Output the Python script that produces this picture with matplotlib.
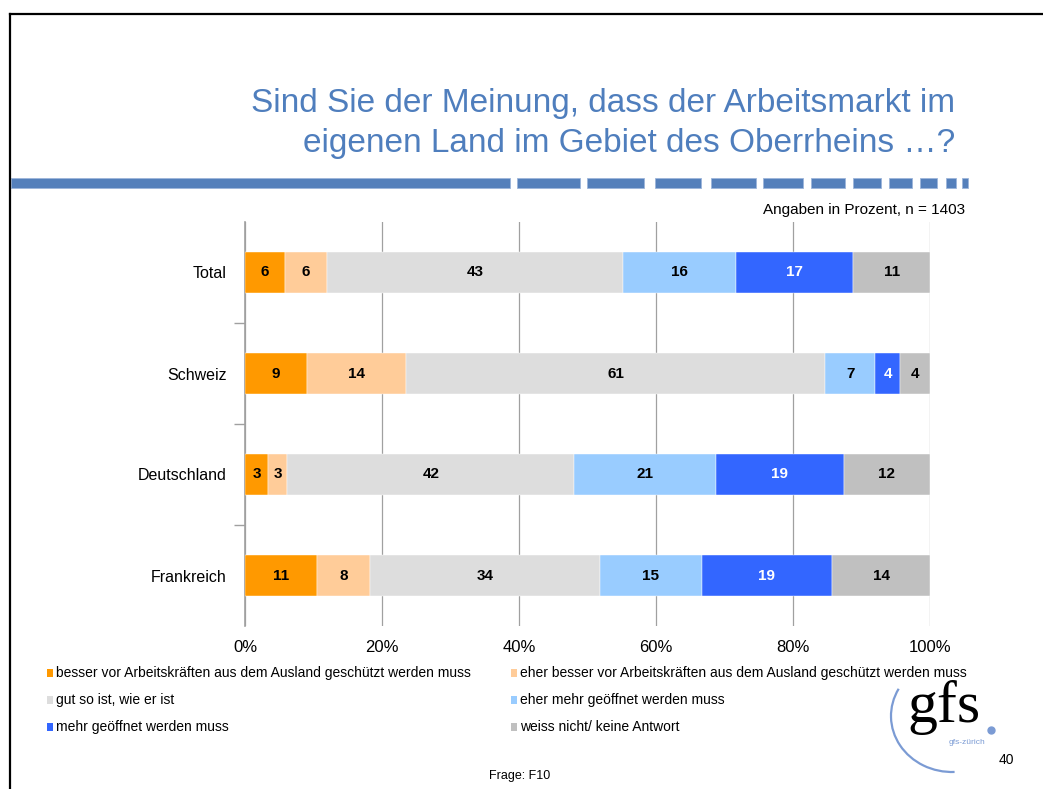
import numpy as np
import matplotlib
matplotlib.use("Agg")
import matplotlib.pyplot as plt
from matplotlib.patches import Rectangle, Arc
from matplotlib.lines import Line2D

plt.rcParams['font.family'] = ['Liberation Sans', 'DejaVu Sans']

# daten (anteile in prozent, aus dem bild gelesen)
regions = ["Total", "Schweiz", "Deutschland", "Frankreich"]
answers = [
    "besser vor Arbeitskräften aus dem Ausland geschützt werden muss",
    "eher besser vor Arbeitskräften aus dem Ausland geschützt werden muss",
    "gut so ist, wie er ist",
    "eher mehr geöffnet werden muss",
    "mehr geöffnet werden muss",
    "weiss nicht/ keine Antwort",
]
shares = [
    [5.8, 6.2, 43.2, 16.5, 17.1, 11.2],
    [9.0, 14.5, 61.2, 7.3, 3.6, 4.4],
    [3.4, 2.8, 41.9, 20.6, 18.7, 12.6],
    [10.5, 7.7, 33.6, 14.9, 19.0, 14.3],
]
labels = [
    [6, 6, 43, 16, 17, 11],
    [9, 14, 61, 7, 4, 4],
    [3, 3, 42, 21, 19, 12],
    [11, 8, 34, 15, 19, 14],
]
colors = ["#FF9900", "#FFCC99", "#DDDDDD", "#99CCFF", "#3366FF", "#C0C0C0"]
label_colors = ["black", "black", "black", "black", "white", "black"]
xticks = [0, 20, 40, 60, 80, 100]

W, H = 1043, 789
fig = plt.figure(figsize=(W / 100, H / 100), dpi=100)


def fx(px):
    return px / W


def fy(py):
    return 1 - py / H


# rahmen links und oben
fig.add_artist(Line2D([fx(10), fx(10)], [fy(14), 0], color="black", lw=1.6))
fig.add_artist(Line2D([fx(10), 1], [fy(14), fy(14)], color="black", lw=1.6))

# titel
title_color = "#4F7EBD"
fig.text(fx(955), fy(112), "Sind Sie der Meinung, dass der Arbeitsmarkt im",
         ha="right", va="baseline", fontsize=24, color=title_color)
fig.text(fx(955), fy(152), "eigenen Land im Gebiet des Oberrheins …?",
         ha="right", va="baseline", fontsize=24, color=title_color)

# gestrichelte linie
dashes = [(11, 510), (517, 580), (587, 644), (655, 701), (711, 756), (763, 803),
          (811, 845), (853, 881), (889, 912), (920, 937), (946, 956), (962, 968)]
for a, b in dashes:
    fig.add_artist(Rectangle((fx(a), fy(188)), fx(b - a), 10 / H,
                             facecolor="#5580BB", edgecolor="#9DB5DA", lw=0.6))

fig.text(fx(965), fy(214), "Angaben in Prozent, n = 1403", ha="right",
         va="baseline", fontsize=11)

# diagramm
ax = fig.add_axes([fx(245), fy(626), fx(930) - fx(245), (626 - 222) / H])
y = np.arange(len(regions))
left = np.zeros(len(regions))
vals = np.array(shares)
for j in range(len(answers)):
    ax.barh(y, vals[:, j], left=left, height=0.4, color=colors[j],
            edgecolor="white", linewidth=0.3, zorder=3)
    for i in range(len(regions)):
        ax.text(left[i] + vals[i, j] / 2, y[i], str(labels[i][j]),
                ha="center", va="center", fontsize=11, fontweight="bold",
                color=label_colors[j], zorder=4)
    left += vals[:, j]

ax.set_xlim(0, 100)
ax.set_ylim(len(regions) - 0.5, -0.5)
ax.set_xticks(xticks)
ax.set_xticklabels([f"{t}%" for t in xticks], fontsize=12)
ax.set_yticks(y)
ax.set_yticklabels(regions, fontsize=11.5)
ax.set_yticks(np.arange(1, len(regions)) - 0.5, minor=True)
ax.tick_params(axis="y", which="major", length=0, pad=13)
ax.tick_params(axis="y", which="minor", length=8, color="#A0A0A0", width=1)
ax.tick_params(axis="x", length=0, pad=10)
ax.grid(axis="x", color="#A0A0A0", lw=0.9, zorder=0)
for s in ["top", "right", "bottom"]:
    ax.spines[s].set_visible(False)
ax.spines["left"].set_color("#A0A0A0")
ax.spines["left"].set_linewidth(1.2)

# legende
leg_pos = [(47, 673), (511, 673), (47, 700), (511, 700), (47, 727), (511, 727)]
for (px, py), name, c in zip(leg_pos, answers, colors):
    fig.add_artist(Rectangle((fx(px), fy(py + 4)), fx(6), 8 / H,
                             facecolor=c, edgecolor="none"))
    fig.text(fx(px + 9), fy(py), name, ha="left", va="center", fontsize=10)

fig.text(fx(520), fy(776), "Frage: F10", ha="center", va="center", fontsize=9)
fig.text(fx(1006), fy(760), "40", ha="center", va="center", fontsize=10)

# logo
fig.add_artist(Arc((fx(952), fy(716)), fx(122), 112 / H, theta1=146,
                   theta2=272, color="#7B9BD4", lw=1.6))
fig.text(fx(944), fy(722), "gfs", ha="center", va="baseline", fontsize=43,
         family=["Liberation Serif", "DejaVu Serif"], color="black")
fig.add_artist(Line2D([fx(991)], [fy(730)], marker="o", markersize=5,
                      color="#7B9BD4"))
fig.text(fx(967), fy(743), "gfs-zürich", ha="center", va="center",
         fontsize=6, color="#7B9BD4")

fig.savefig("out.png", dpi=100)
